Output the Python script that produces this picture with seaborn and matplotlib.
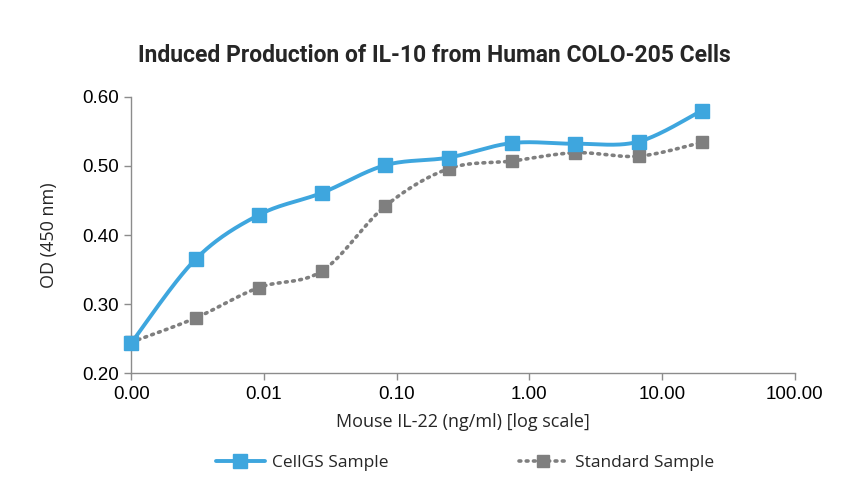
import numpy as np
import pandas as pd
import matplotlib
matplotlib.use("Agg")
import matplotlib.pyplot as plt
import seaborn as sns
from matplotlib.lines import Line2D
from matplotlib.ticker import FixedLocator, FixedFormatter, NullLocator

# ---- data ----
concentration = [0.001, 0.00305, 0.00914, 0.0274, 0.0823, 0.247, 0.741, 2.22, 6.67, 20.0]
cellgs_od = [0.244, 0.365, 0.429, 0.461, 0.501, 0.512, 0.533, 0.532, 0.535, 0.580]
standard_od = [0.245, 0.280, 0.324, 0.348, 0.442, 0.496, 0.507, 0.519, 0.514, 0.534]
series_names = ["CellGS Sample", "Standard Sample"]
x_ticks = [0.001, 0.01, 0.1, 1, 10, 100]
x_tick_labels = ["0.00", "0.01", "0.10", "1.00", "10.00", "100.00"]
y_ticks = [0.20, 0.30, 0.40, 0.50, 0.60]
y_tick_labels = ["0.20", "0.30", "0.40", "0.50", "0.60"]
title = "Induced Production of IL-10 from Human COLO-205 Cells"
x_label = "Mouse IL-22 (ng/ml) [log scale]"
y_label = "OD (450 nm)"

BLUE = "#3EA6DE"
GREY = "#7F7F7F"

sns.set_theme(style="white")
plt.rcParams["font.family"] = ["Liberation Sans", "DejaVu Sans"]


def smooth(xs, ys, n=40):
    """Catmull-Rom style smoothing (as in spreadsheet 'smoothed line') in log-x space."""
    lx = np.log10(np.asarray(xs, float))
    y = np.asarray(ys, float)
    P = np.column_stack([lx, y])
    out = []
    for i in range(len(P) - 1):
        p0 = P[i - 1] if i > 0 else P[i]
        p1 = P[i]
        p2 = P[i + 1]
        p3 = P[i + 2] if i + 2 < len(P) else P[i + 1]
        c1 = p1 + (p2 - p0) / 6.0
        c2 = p2 - (p3 - p1) / 6.0
        t = np.linspace(0, 1, n, endpoint=(i == len(P) - 2))[:, None]
        b = ((1 - t) ** 3) * p1 + 3 * ((1 - t) ** 2) * t * c1 + 3 * (1 - t) * t ** 2 * c2 + t ** 3 * p2
        out.append(b)
    out = np.vstack(out)
    return 10 ** out[:, 0], out[:, 1]


fig = plt.figure(figsize=(8.68, 5.0), dpi=100)
ax = fig.add_axes([0.1513, 0.2534, 0.9155 - 0.1513, 0.8066 - 0.2534])

bx, by = smooth(concentration, cellgs_od)
gx, gy = smooth(concentration, standard_od)
df_b = pd.DataFrame({"x": bx, "y": by})
df_g = pd.DataFrame({"x": gx, "y": gy})

DOTS = (0, (0.5, 1.5))
sns.lineplot(data=df_g, x="x", y="y", ax=ax, color=GREY, linewidth=2.6, sort=False,
             estimator=None)
ax.lines[-1].set_linestyle(DOTS)
ax.lines[-1].set_dash_capstyle("round")
sns.lineplot(data=df_b, x="x", y="y", ax=ax, color=BLUE, linewidth=2.8, sort=False,
             estimator=None)

ax.plot(concentration, standard_od, linestyle="none", marker="s", markersize=8,
        color=GREY, clip_on=False, zorder=5)
ax.plot(concentration, cellgs_od, linestyle="none", marker="s", markersize=9.5,
        color=BLUE, clip_on=False, zorder=6)

ax.set_xscale("log")
ax.set_xlim(0.001, 100)
ax.set_ylim(0.2, 0.6)
ax.xaxis.set_major_locator(FixedLocator(x_ticks))
ax.xaxis.set_major_formatter(FixedFormatter(x_tick_labels))
ax.xaxis.set_minor_locator(NullLocator())
ax.yaxis.set_major_locator(FixedLocator(y_ticks))
ax.yaxis.set_major_formatter(FixedFormatter(y_tick_labels))

for s in ["top", "right"]:
    ax.spines[s].set_visible(False)
for s in ["left", "bottom"]:
    ax.spines[s].set_color("#8C8C8C")
    ax.spines[s].set_linewidth(1.0)

ax.tick_params(axis="both", which="major", direction="out", length=5, width=1,
               color="#8C8C8C", labelsize=13.5, labelcolor="black", pad=4,
               bottom=True, left=True)

ax.set_xlabel(x_label, family=["Open Sans", "DejaVu Sans"], fontsize=13, labelpad=7)
ax.set_ylabel(y_label, family=["Open Sans", "DejaVu Sans"], fontsize=13, labelpad=17)
ax.set_title("")
fig.text(0.5, 0.89, title, ha="center", va="center", fontsize=16.5,
         fontweight="bold", family=["Roboto", "DejaVu Sans"])

handles = [
    Line2D([], [], color=BLUE, linewidth=2.8, marker="s", markersize=9.5),
    Line2D([], [], color=GREY, linewidth=2.6, linestyle=DOTS,
           dash_capstyle="round", marker="s", markersize=8),
]
fig.legend(handles, series_names, loc="center", bbox_to_anchor=(0.536, 0.074), ncol=2,
           frameon=False, handlelength=2.8, columnspacing=7.5, handletextpad=0.45,
           prop={"family": ["Open Sans", "DejaVu Sans"], "size": 12.5})

fig.savefig("out.png", dpi=100, facecolor="white")
